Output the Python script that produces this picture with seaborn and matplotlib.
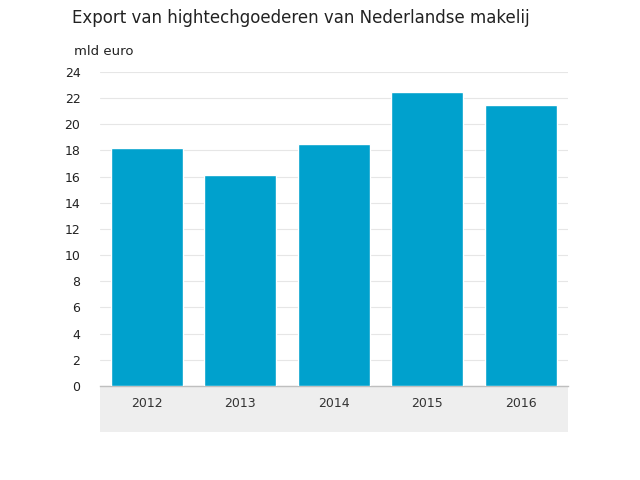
import matplotlib
matplotlib.use("Agg")
from matplotlib import pyplot as plt
import matplotlib.patches as mpatches
import pandas as pd
import seaborn as sns

# data
jaren = ["2012", "2013", "2014", "2015", "2016"]
export_mld = [18.2, 16.1, 18.5, 22.5, 21.5]
y_ticks = list(range(0, 25, 2))

df = pd.DataFrame({"jaar": jaren, "export": export_mld})

sns.set_style("white")
plt.rcParams["font.family"] = ["DejaVu Sans"]

fig = plt.figure(figsize=(6.4, 4.8), dpi=100)
ax = fig.add_axes([0.156, 0.196, 0.731, 0.654])

sns.barplot(ax=ax, data=df, x="jaar", y="export", color="#00a1cd",
            saturation=1, width=0.77, zorder=3)

ax.set_ylim(0, 24)
ax.set_yticks(y_ticks)
ax.set_xlim(-0.5, 4.5)
ax.yaxis.grid(True, color="#e6e6e6", linewidth=0.8, zorder=0)
ax.set_axisbelow(True)
for side in ["top", "right", "left"]:
    ax.spines[side].set_visible(False)
ax.spines["bottom"].set_color("#bfbfbf")
ax.spines["bottom"].set_linewidth(1.0)
ax.set_xlabel("")
ax.set_ylabel("")

ax.tick_params(axis="y", length=0, labelsize=9, pad=14, labelcolor="#222222")
ax.tick_params(axis="x", length=4, color="#cccccc", labelsize=9, pad=4,
               labelcolor="#333333", direction="out")

# grey band under the axis
band = mpatches.Rectangle((0, -0.146), 1, 0.146, transform=ax.transAxes,
                          facecolor="#eeeeee", edgecolor="none",
                          clip_on=False, zorder=0)
ax.add_patch(band)

fig.text(0.112, 0.962, "Export van hightechgoederen van Nederlandse makelij",
         fontsize=12, color="#222222", va="center", ha="left")
fig.text(0.116, 0.892, "mld euro", fontsize=9.5, color="#222222",
         va="center", ha="left")

fig.savefig("out.png", dpi=100)
